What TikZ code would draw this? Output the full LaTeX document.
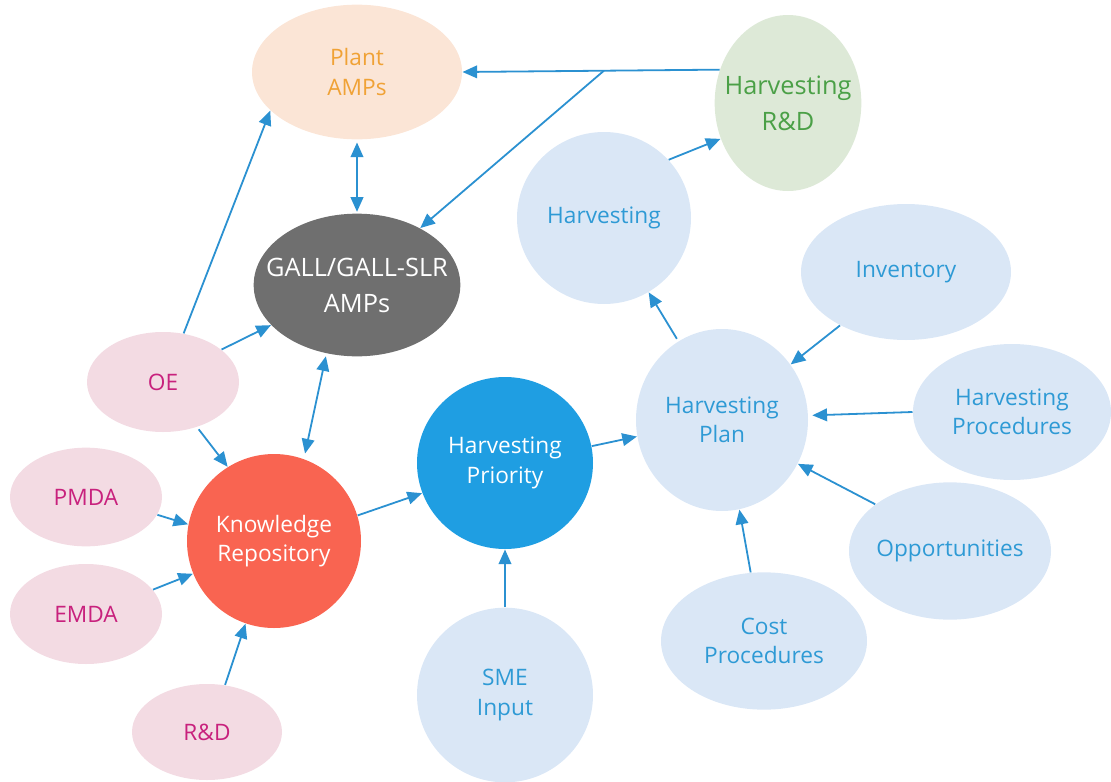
\documentclass[tikz,border=0pt]{standalone}
\usepackage{fontspec}
\setmainfont{Open Sans}
\usetikzlibrary{shapes.geometric,arrows.meta,calc}

\definecolor{plantfill}{HTML}{FBE5D6}
\definecolor{planttext}{HTML}{F0A236}
\definecolor{rdfill}{HTML}{DDE9D7}
\definecolor{rdtext}{HTML}{4BA047}
\definecolor{bluefill}{HTML}{DAE7F6}
\definecolor{bluetext}{HTML}{2E9AD5}
\definecolor{gallfill}{HTML}{6F6F6F}
\definecolor{pinkfill}{HTML}{F3DBE3}
\definecolor{pinktext}{HTML}{C8217D}
\definecolor{priofill}{HTML}{1F9EE2}
\definecolor{krfill}{HTML}{F96451}
\definecolor{linkcol}{HTML}{2B91D1}

\tikzset{every picture/.style={line width=0.75pt}}
\tikzset{
  hd/.tip={Triangle[length=11pt,width=9.5pt]},
  bubble/.style={ellipse, inner sep=0pt, align=center, font=\fontsize{17}{22}\selectfont},
  bigbubble/.style={bubble, font=\fontsize{19}{27}\selectfont},
  bluebub/.style={bubble, fill=bluefill, text=bluetext},
  pinkbub/.style={bubble, fill=pinkfill, text=pinktext},
  link/.style={draw=linkcol, line width=1.35pt, -hd},
  duallink/.style={link, hd-hd},
}

\begin{document}
\begin{tikzpicture}[x=0.75pt,y=0.75pt,yscale=-1,xscale=1]
\useasboundingbox (0,0) rectangle (1111,782);

% top row
\node [bubble, fill=plantfill, text=planttext, minimum width=157.5pt, minimum height=101pt] (plant) at (357,72) {Plant\\AMPs};
\node [bigbubble, fill=rdfill, text=rdtext, inner xsep=-10pt, minimum width=110pt, minimum height=132pt] (hrd) at (788,103) {Harvesting\\R\&D};
\node [bluebub, minimum width=130.5pt, minimum height=129pt] (harv) at (604,218) {Harvesting};
\node [bigbubble, fill=gallfill, text=white, inner xsep=-15pt, minimum width=155pt, minimum height=107pt] (gall) at (357,285) {GALL/GALL-SLR\\AMPs};
\node [bluebub, minimum width=157.5pt, minimum height=102pt] (inv) at (906,272) {Inventory};

% left column
\node [pinkbub, minimum width=114pt, minimum height=75pt] (oe) at (163,382) {OE};
\node [pinkbub, minimum width=114pt, minimum height=74pt] (pmda) at (86,497) {PMDA};
\node [pinkbub, minimum width=114pt, minimum height=75pt] (emda) at (86,614) {EMDA};
\node [pinkbub, minimum width=112.5pt, minimum height=72pt] (rd) at (207,732) {R\&D};

% middle
\node [bubble, fill=krfill, text=white, minimum width=130.5pt, minimum height=130.5pt] (kr) at (274,541) {Knowledge\\Repository};
\node [bubble, fill=priofill, text=white, minimum width=132pt, minimum height=129pt] (prio) at (505,463) {Harvesting\\Priority};
\node [bluebub, minimum width=132pt, minimum height=131pt] (sme) at (505,695) {SME\\Input};

% right
\node [bluebub, minimum width=129pt, minimum height=136.5pt] (plan) at (722,420) {Harvesting\\Plan};
\node [bluebub, minimum width=148.5pt, minimum height=102pt] (hproc) at (1012,412) {Harvesting\\Procedures};
\node [bluebub, inner xsep=-4pt, minimum width=151.5pt, minimum height=103pt] (opp) at (950,551) {Opportunities};
\node [bluebub, minimum width=154.5pt, minimum height=103pt] (cost) at (764,641) {Cost\\Procedures};

% arrows
\draw [link] (hrd.154) -- (plant.east);
\coordinate (fork) at ($(hrd.154)!0.45!(plant.east)$);
\draw [link] (fork) -- (gall.42);
\draw [duallink, shorten <=2pt, shorten >=1pt] (plant.south) -- (gall.north);
\draw [link] (oe.67) -- (plant.204);
\draw [link] (oe.29) -- (gall.205);
\draw [link, shorten <=2pt] (oe.307) -- (kr.122);
\draw [duallink, shorten <=2pt, shorten >=4pt] (gall.246) -- (kr.70);
\draw [link] (pmda.346) -- (kr.169);
\draw [link] (emda.20) -- (kr.202);
\draw [link] (rd.69) -- (kr.251);
\draw [link] (kr.17) -- (prio.200);
\draw [link] (prio.11) -- (plan.191);
\draw [link] (sme.north) -- (prio.south);
\draw [link] (harv.42) -- (hrd.208);
\draw [link, shorten <=2pt] (plan.119) -- (harv.301);
\draw [link] (inv.219) -- (plan.39);
\draw [link, shorten >=3pt] (hproc.west) -- (plan.3);
\draw [link] (opp.148) -- (plan.330);
\draw [link] (cost.101) -- (plan.281);

\end{tikzpicture}
\end{document}
